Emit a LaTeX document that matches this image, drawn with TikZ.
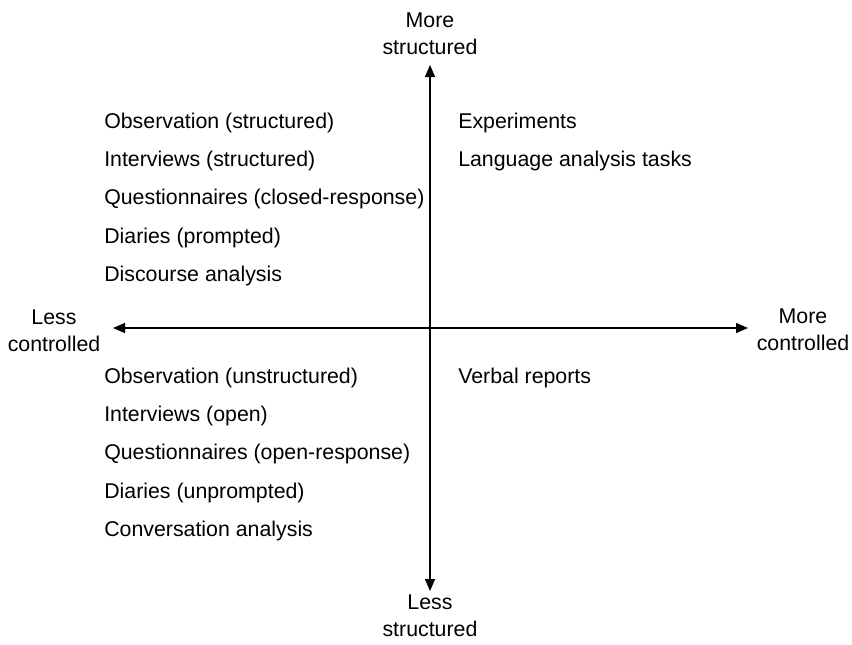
\documentclass[tikz,border=0pt]{standalone}
\usepackage{fontspec}
\setmainfont{Liberation Sans}
\usepackage{tikz}
\usetikzlibrary{positioning}
\usetikzlibrary{arrows.meta}
\tikzstyle{axis} = [draw,line width=1.1pt,{Triangle[length=9pt,width=7.5pt]}-{Triangle[length=9pt,width=7.5pt]}]
\tikzstyle{method} = [anchor=base west,inner sep=0pt,font=\fontsize{16}{20.25}\selectfont]
\tikzstyle{pole} = [align=center,inner sep=0pt,font=\fontsize{16}{20.25}\selectfont]

\begin{document}
\begin{tikzpicture}[x=0.75pt,y=-0.75pt]
    \useasboundingbox (0,0) rectangle (852,644);
    % End points of the two axes
    \coordinate (top) at (430,65);
    \coordinate (bottom) at (430,591);
    \coordinate (left) at (113,328);
    \coordinate (right) at (748,328);
    \path[axis] (bottom) -- (top);
    \path[axis] (left) -- (right);

    % Labels at the ends of the axes
    \node[pole,anchor=north] (morestr) at (430,13) {More\\structured};
    \node[pole,anchor=north] (lessstr) at (430,595) {Less\\structured};
    \node[pole,anchor=north] (lessctl) at (54,310) {Less\\controlled};
    \node[pole,anchor=north] (morectl) at (803,309) {More\\controlled};

    % Methods in the four quadrants
    \foreach \y/\name/\txt in {128/obss/{Observation (structured)}, 166.3/ints/{Interviews (structured)}, 204.6/ques/{Questionnaires (closed-response)}, 243/diap/{Diaries (prompted)}, 281.3/disc/{Discourse analysis}}
        \node[method] (\name) at (104,\y) {\txt};
    \foreach \y/\name/\txt in {128/expt/{Experiments}, 166.3/lang/{Language analysis tasks}}
        \node[method] (\name) at (458,\y) {\txt};
    \foreach \y/\name/\txt in {383/obsu/{Observation (unstructured)}, 421.3/into/{Interviews (open)}, 459.6/queo/{Questionnaires (open-response)}, 498/diau/{Diaries (unprompted)}, 536.3/conv/{Conversation analysis}}
        \node[method] (\name) at (104,\y) {\txt};
    \node[method] (verb) at (458,383) {Verbal reports};
\end{tikzpicture}
\end{document}
